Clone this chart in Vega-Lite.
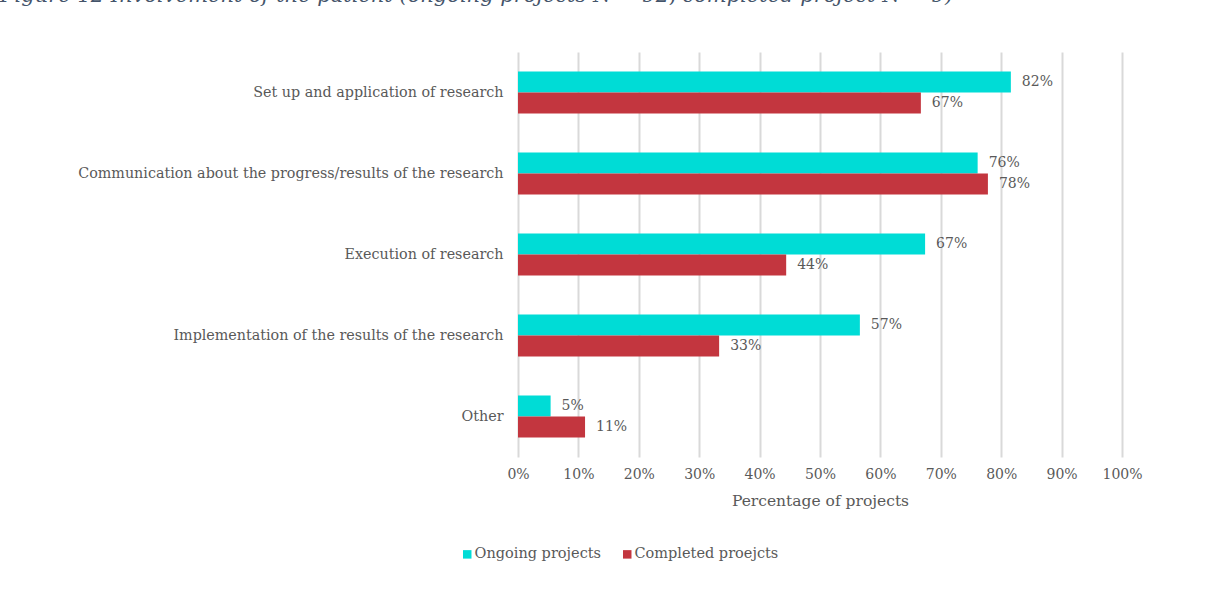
{
  "$schema": "https://vega.github.io/schema/vega-lite/v6.json",
  "autosize": {"type": "none"},
  "width": 604,
  "height": 405,
  "padding": {"left": 518, "top": 52, "right": 84, "bottom": 142},
  "background": "white",
  "title": {
    "text": "Figure 12 Involvement of the patient (ongoing projects N = 92, completed project N = 9)",
    "anchor": "start",
    "frame": "group",
    "dx": -518,
    "dy": -25,
    "baseline": "alphabetic",
    "font": "DejaVu Serif",
    "fontStyle": "italic",
    "fontWeight": "normal",
    "fontSize": 21,
    "color": "#44546A"
  },
  "config": {
    "view": {"stroke": null},
    "font": "DejaVu Serif",
    "axis": {"labelFont": "DejaVu Serif", "titleFont": "DejaVu Serif", "labelColor": "#595959", "titleColor": "#595959"},
    "legend": {"labelFont": "DejaVu Serif"}
  },
  "data": {
    "values": [
      {"activity": "Set up and application of research", "series": "Ongoing projects", "share": 0.816},
      {"activity": "Set up and application of research", "series": "Completed proejcts", "share": 0.667},
      {"activity": "Communication about the progress/results of the research", "series": "Ongoing projects", "share": 0.761},
      {"activity": "Communication about the progress/results of the research", "series": "Completed proejcts", "share": 0.778},
      {"activity": "Execution of research", "series": "Ongoing projects", "share": 0.674},
      {"activity": "Execution of research", "series": "Completed proejcts", "share": 0.444},
      {"activity": "Implementation of the results of the research", "series": "Ongoing projects", "share": 0.566},
      {"activity": "Implementation of the results of the research", "series": "Completed proejcts", "share": 0.333},
      {"activity": "Other", "series": "Ongoing projects", "share": 0.054},
      {"activity": "Other", "series": "Completed proejcts", "share": 0.111}
    ]
  },
  "encoding": {
    "y": {
      "field": "activity",
      "type": "nominal",
      "sort": ["Set up and application of research", "Communication about the progress/results of the research", "Execution of research", "Implementation of the results of the research", "Other"],
      "scale": {"paddingInner": 0.48, "paddingOuter": 0.24},
      "axis": {"title": null, "domain": false, "ticks": false, "labelPadding": 15, "labelFontSize": 14.3, "labelLimit": 600}
    },
    "x": {
      "field": "share",
      "type": "quantitative",
      "scale": {"domain": [0, 1]},
      "axis": {
        "title": "Percentage of projects",
        "titleFontSize": 15.5,
        "titleFontWeight": "normal",
        "titlePadding": 12,
        "format": ".0%",
        "values": [0, 0.1, 0.2, 0.3, 0.4, 0.5, 0.6, 0.7, 0.8, 0.9, 1],
        "domain": false,
        "ticks": false,
        "labelFontSize": 14,
        "labelPadding": 10,
        "labelFlush": false,
        "grid": true,
        "gridColor": "#D9D9D9",
        "gridWidth": 2
      }
    },
    "yOffset": {"field": "series", "sort": ["Ongoing projects", "Completed proejcts"]}
  },
  "layer": [
    {
      "mark": {"type": "bar"},
      "encoding": {
        "color": {
          "field": "series",
          "type": "nominal",
          "scale": {"domain": ["Ongoing projects", "Completed proejcts"], "range": ["#00DCD6", "#C3363F"]},
          "legend": {
            "title": null,
            "orient": "none",
            "direction": "horizontal",
            "legendX": -58,
            "legendY": 495,
            "symbolType": "square",
            "symbolSize": 72,
            "symbolStrokeWidth": 0,
            "labelFontSize": 14.5,
            "labelColor": "#595959",
            "labelOffset": 0,
            "columnPadding": 18
          }
        }
      }
    },
    {
      "mark": {"type": "text", "align": "left", "baseline": "middle", "dx": 11, "fontSize": 14, "color": "#595959", "font": "DejaVu Serif"},
      "encoding": {"text": {"field": "share", "type": "quantitative", "format": ".0%"}}
    }
  ]
}
